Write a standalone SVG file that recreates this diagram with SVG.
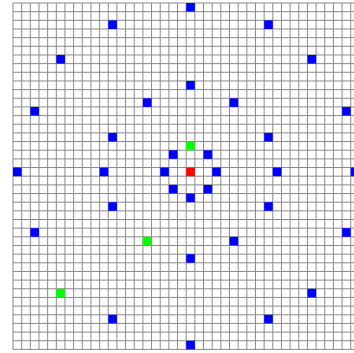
<svg xmlns="http://www.w3.org/2000/svg" width="354" height="353" viewBox="0 0 354 353">
<style>
.grid{fill:none;stroke:#8a8a8a;stroke-width:0.11547}
.b{fill:#0000ff}
.g{fill:#00ff00}
.r{fill:#ff0000}
</style>
<rect width="354" height="353" fill="#ffffff"/>
<g transform="translate(13 3) scale(8.66)">
<g id="connectors">
<path class="grid" d="M0 0V40M1 0V40M2 0V40M3 0V40M4 0V40M5 0V40M6 0V40M7 0V40M8 0V40M9 0V40M10 0V40M11 0V40M12 0V40M13 0V40M14 0V40M15 0V40M16 0V40M17 0V40M18 0V40M19 0V40M20 0V40M21 0V40M22 0V40M23 0V40M24 0V40M25 0V40M26 0V40M27 0V40M28 0V40M29 0V40M30 0V40M31 0V40M32 0V40M33 0V40M34 0V40M35 0V40M36 0V40M37 0V40M38 0V40M39 0V40M40 0V40M0 0H40M0 1H40M0 2H40M0 3H40M0 4H40M0 5H40M0 6H40M0 7H40M0 8H40M0 9H40M0 10H40M0 11H40M0 12H40M0 13H40M0 14H40M0 15H40M0 16H40M0 17H40M0 18H40M0 19H40M0 20H40M0 21H40M0 22H40M0 23H40M0 24H40M0 25H40M0 26H40M0 27H40M0 28H40M0 29H40M0 30H40M0 31H40M0 32H40M0 33H40M0 34H40M0 35H40M0 36H40M0 37H40M0 38H40M0 39H40M0 40H40"/>
</g>
<g id="center"><rect class="r" x="20" y="19" width="1" height="1"/></g>
<g id="green1"><rect class="g" x="20" y="16" width="1" height="1"/></g>
<g id="green2"><rect class="g" x="15" y="27" width="1" height="1"/></g>
<g id="green3"><rect class="g" x="5" y="33" width="1" height="1"/></g>
<g id="b1"><rect class="b" x="20" y="0" width="1" height="1"/></g>
<g id="b2"><rect class="b" x="11" y="2" width="1" height="1"/></g>
<g id="b3"><rect class="b" x="29" y="2" width="1" height="1"/></g>
<g id="b4"><rect class="b" x="5" y="6" width="1" height="1"/></g>
<g id="b5"><rect class="b" x="34" y="6" width="1" height="1"/></g>
<g id="b6"><rect class="b" x="20" y="9" width="1" height="1"/></g>
<g id="b7"><rect class="b" x="15" y="11" width="1" height="1"/></g>
<g id="b8"><rect class="b" x="25" y="11" width="1" height="1"/></g>
<g id="b9"><rect class="b" x="2" y="12" width="1" height="1"/></g>
<g id="b10"><rect class="b" x="38" y="12" width="1" height="1"/></g>
<g id="b11"><rect class="b" x="11" y="15" width="1" height="1"/></g>
<g id="b12"><rect class="b" x="29" y="15" width="1" height="1"/></g>
<g id="b13"><rect class="b" x="18" y="17" width="1" height="1"/></g>
<g id="b14"><rect class="b" x="22" y="17" width="1" height="1"/></g>
<g id="b15"><rect class="b" x="0" y="19" width="1" height="1"/></g>
<g id="b16"><rect class="b" x="10" y="19" width="1" height="1"/></g>
<g id="b17"><rect class="b" x="17" y="19" width="1" height="1"/></g>
<g id="b18"><rect class="b" x="23" y="19" width="1" height="1"/></g>
<g id="b19"><rect class="b" x="30" y="19" width="1" height="1"/></g>
<g id="b20"><rect class="b" x="39" y="19" width="1" height="1"/></g>
<g id="b21"><rect class="b" x="18" y="21" width="1" height="1"/></g>
<g id="b22"><rect class="b" x="22" y="21" width="1" height="1"/></g>
<g id="b23"><rect class="b" x="20" y="22" width="1" height="1"/></g>
<g id="b24"><rect class="b" x="11" y="23" width="1" height="1"/></g>
<g id="b25"><rect class="b" x="29" y="23" width="1" height="1"/></g>
<g id="b26"><rect class="b" x="2" y="26" width="1" height="1"/></g>
<g id="b27"><rect class="b" x="38" y="26" width="1" height="1"/></g>
<g id="b28"><rect class="b" x="25" y="27" width="1" height="1"/></g>
<g id="b29"><rect class="b" x="20" y="29" width="1" height="1"/></g>
<g id="b30"><rect class="b" x="34" y="33" width="1" height="1"/></g>
<g id="b31"><rect class="b" x="11" y="36" width="1" height="1"/></g>
<g id="b32"><rect class="b" x="29" y="36" width="1" height="1"/></g>
<g id="b33"><rect class="b" x="20" y="39" width="1" height="1"/></g>
</g>
</svg>
